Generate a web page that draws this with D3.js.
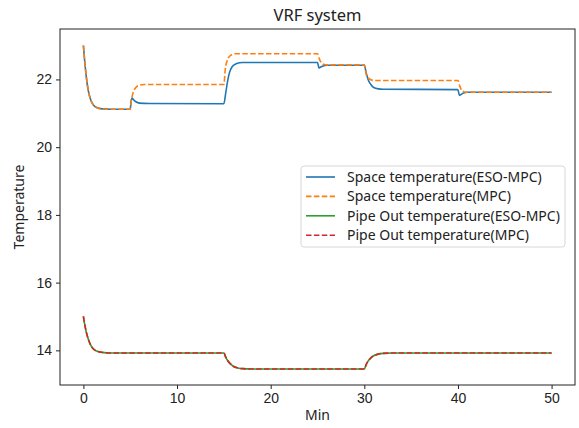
<!DOCTYPE html>
<html>
<head>
<meta charset="utf-8">
<script src="https://cdn.jsdelivr.net/npm/d3@7"></script>
<style>
  body { margin: 0; background: #fff; }
  svg { font-family: "Noto Sans", "Open Sans", sans-serif; }
</style>
</head>
<body>
<div id="chart"></div>
<script>
// values (minutes, temperature)
var spaceEsoT = [0, 0.15, 0.3, 0.5, 0.75, 1.0, 1.4, 2.0, 3, 5, 5.1, 5.2, 5.35, 5.6, 6.0, 7, 15,
  15.2, 15.4, 15.6, 15.9, 16.3, 17, 25, 25.15, 25.3, 25.6, 26, 30, 30.2, 30.4, 30.7, 31, 31.5, 32,
  40, 40.15, 40.3, 40.6, 41, 50];
var spaceEsoV = [23.0, 22.5, 22.1, 21.7, 21.42, 21.27, 21.17, 21.13, 21.12, 21.12, 21.36, 21.45, 21.4, 21.34, 21.3, 21.29, 21.28,
  21.6, 21.95, 22.2, 22.38, 22.46, 22.5, 22.5, 22.34, 22.36, 22.4, 22.42, 22.42, 22.2, 22.0, 21.85, 21.76, 21.72, 21.71,
  21.7, 21.53, 21.55, 21.6, 21.62, 21.62];

var spaceMpcT = [0, 0.15, 0.3, 0.5, 0.75, 1.0, 1.4, 2.0, 3, 5, 5.1, 5.3, 5.6, 6.0, 6.5, 15,
  15.15, 15.35, 15.6, 15.9, 16.3, 25, 25.2, 25.4, 25.7, 26, 30, 30.2, 30.4, 30.7, 31,
  40, 40.2, 40.4, 40.7, 41, 50];
var spaceMpcV = [23.0, 22.5, 22.1, 21.7, 21.42, 21.27, 21.17, 21.13, 21.12, 21.12, 21.35, 21.6, 21.76, 21.83, 21.85, 21.85,
  22.3, 22.55, 22.68, 22.74, 22.76, 22.76, 22.6, 22.5, 22.44, 22.43, 22.43, 22.15, 22.05, 21.99, 21.97,
  21.97, 21.8, 21.68, 21.63, 21.62, 21.62];

var pipeT = [0, 0.15, 0.3, 0.5, 0.75, 1.0, 1.4, 2.0, 3, 15, 15.2, 15.4, 15.7, 16, 16.5, 17, 18,
  30, 30.2, 30.4, 30.7, 31, 31.5, 32, 33, 50];
var pipeEsoV = [15.0, 14.75, 14.55, 14.35, 14.17, 14.06, 13.98, 13.94, 13.92, 13.92, 13.8, 13.7, 13.6, 13.53, 13.48, 13.46, 13.45,
  13.45, 13.58, 13.68, 13.78, 13.84, 13.89, 13.91, 13.92, 13.92];
var pipeMpcV = [15.0, 14.75, 14.55, 14.35, 14.17, 14.06, 13.98, 13.94, 13.92, 13.92, 13.8, 13.7, 13.6, 13.53, 13.48, 13.46, 13.45,
  13.45, 13.58, 13.68, 13.78, 13.84, 13.89, 13.91, 13.92, 13.92];

var seriesNames = ['Space temperature(ESO-MPC)', 'Space temperature(MPC)',
  'Pipe Out temperature(ESO-MPC)', 'Pipe Out temperature(MPC)'];
var seriesColors = ['#1f77b4', '#ff7f0e', '#2ca02c', '#d62728'];
var xTicks = [0, 10, 20, 30, 40, 50];
var yTicks = [14, 16, 18, 20, 22];

(function() {
  var W = 579, H = 428;
  var left = 60, right = 575, top = 29, bottom = 385;

  var svg = d3.select('#chart').append('svg')
    .attr('width', W).attr('height', H);

  var x = d3.scaleLinear().domain([-2.5, 52.5]).range([left, right]);
  var y = d3.scaleLinear().domain([12.977, 23.489]).range([bottom, top]);

  function zip(ts, vs) {
    return ts.map(function(t, i) { return { t: t, v: vs[i] }; });
  }

  var series = [
    { data: zip(spaceEsoT, spaceEsoV), dash: null },
    { data: zip(spaceMpcT, spaceMpcV), dash: '5.5,2.4' },
    { data: zip(pipeT, pipeEsoV), dash: null },
    { data: zip(pipeT, pipeMpcV), dash: '5.5,2.4' }
  ];

  var line = d3.line()
    .x(function(d) { return x(d.t); })
    .y(function(d) { return y(d.v); })
    .curve(d3.curveMonotoneX);

  svg.append('g').selectAll('path')
    .data(series)
    .join('path')
    .attr('d', function(d) { return line(d.data); })
    .attr('fill', 'none')
    .attr('stroke', function(d, i) { return seriesColors[i]; })
    .attr('stroke-width', 1.6)
    .attr('stroke-dasharray', function(d) { return d.dash; });

  // axes
  var xAxis = svg.append('g')
    .attr('transform', 'translate(0,' + bottom + ')')
    .call(d3.axisBottom(x).tickValues(xTicks).tickSize(4).tickPadding(4).tickFormat(d3.format('d')));
  var yAxis = svg.append('g')
    .attr('transform', 'translate(' + left + ',0)')
    .call(d3.axisLeft(y).tickValues(yTicks).tickSize(4).tickPadding(4).tickFormat(d3.format('d')));

  [xAxis, yAxis].forEach(function(g) {
    g.select('.domain').remove();
    g.selectAll('text').style('font-size', '14px').attr('fill', '#222');
    g.selectAll('line').attr('stroke', '#222');
  });

  svg.append('rect')
    .attr('x', left).attr('y', top)
    .attr('width', right - left).attr('height', bottom - top)
    .attr('fill', 'none').attr('stroke', '#222').attr('stroke-width', 1);

  svg.append('text')
    .attr('x', (left + right) / 2).attr('y', 21)
    .attr('text-anchor', 'middle')
    .style('font-size', '16.5px').attr('fill', '#222')
    .text('VRF system');

  svg.append('text')
    .attr('x', (left + right) / 2).attr('y', 420)
    .attr('text-anchor', 'middle')
    .style('font-size', '14px').attr('fill', '#222')
    .text('Min');

  svg.append('text')
    .attr('transform', 'translate(24,' + ((top + bottom) / 2) + ') rotate(-90)')
    .attr('text-anchor', 'middle')
    .style('font-size', '14px').attr('fill', '#222')
    .text('Temperature');

  // legend
  var lg = svg.append('g').attr('transform', 'translate(301,166)');
  lg.append('rect')
    .attr('width', 264).attr('height', 81).attr('rx', 3)
    .attr('fill', '#fff').attr('fill-opacity', 0.85)
    .attr('stroke', '#d8d8d8');
  seriesNames.forEach(function(name, i) {
    var row = lg.append('g').attr('transform', 'translate(0,' + (11 + i * 19.4) + ')');
    row.append('line')
      .attr('x1', 5).attr('x2', 34).attr('y1', 0).attr('y2', 0)
      .attr('stroke', seriesColors[i]).attr('stroke-width', 1.6)
      .attr('stroke-dasharray', series[i].dash);
    row.append('text')
      .attr('x', 46).attr('y', 0).attr('dy', '0.35em')
      .style('font-size', '14px').attr('fill', '#222')
      .text(name);
  });
})();
</script>
</body>
</html>
